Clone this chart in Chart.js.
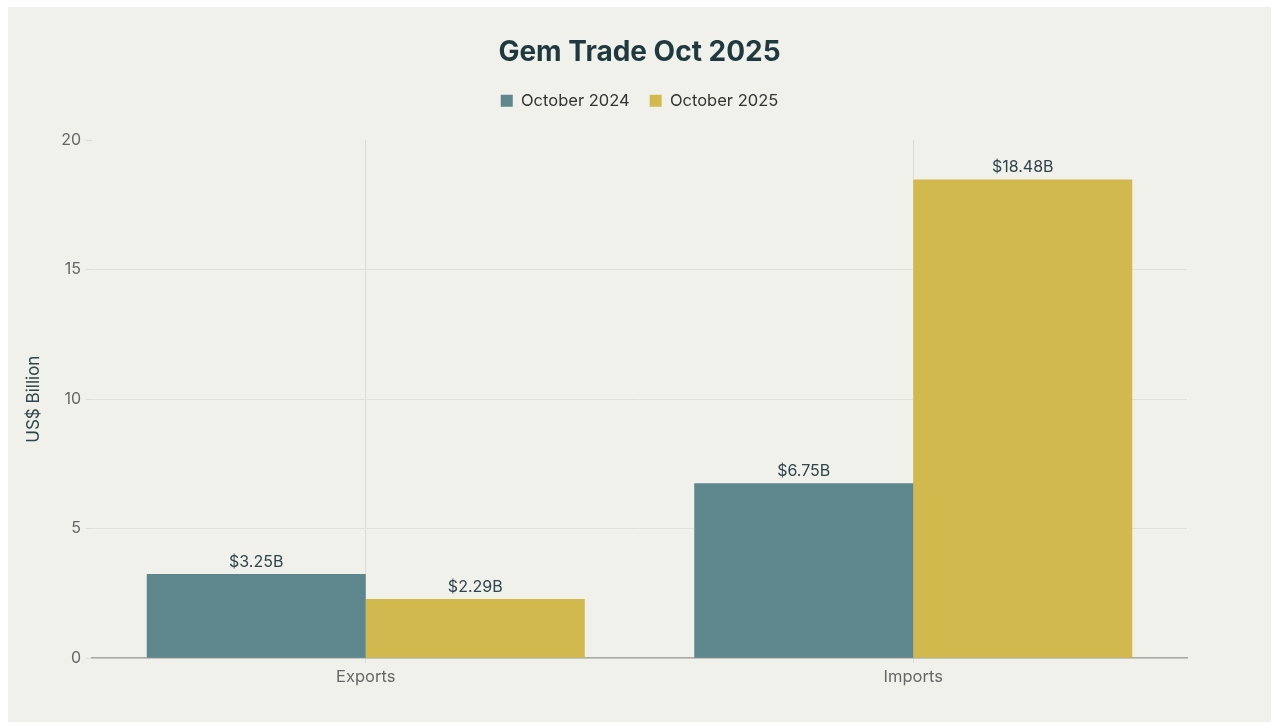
<!DOCTYPE html>
<html>
<head>
<meta charset="utf-8">
<script src="https://cdn.jsdelivr.net/npm/chart.js@4"></script>
<style>
  html, body { margin: 0; padding: 0; background: #ffffff; }
  #panel { position: absolute; left: 8px; top: 7px; width: 1263px; height: 715px; background: #f1f1ec; }
</style>
</head>
<body>
<div id="panel"><canvas id="myChart" width="1263" height="715"></canvas></div>
<script>
// chart values
const categories = ["Exports", "Imports"];
const seriesNames = ["October 2024", "October 2025"];
const oct2024 = [3.25, 6.75];
const oct2025 = [2.29, 18.48];
const yTicks = [0, 5, 10, 15, 20];

const teal = "#5e868d";
const gold = "#d2b94e";
const fontFamily = "Inter, 'Noto Sans', sans-serif";

// draws the "$x.xxB" text above each bar
const barLabels = {
  id: "barLabels",
  afterDatasetsDraw(chart) {
    const ctx = chart.ctx;
    ctx.save();
    ctx.font = "16px " + fontFamily;
    ctx.fillStyle = "#2f454a";
    ctx.textAlign = "center";
    ctx.textBaseline = "bottom";
    chart.data.datasets.forEach(function(ds, i) {
      chart.getDatasetMeta(i).data.forEach(function(bar, j) {
        ctx.fillText("$" + ds.data[j].toFixed(2) + "B", bar.x, bar.y - 4);
      });
    });
    ctx.restore();
  }
};

// extra room between the legend and the plot
const legendGap = {
  id: "legendGap",
  beforeInit(chart) {
    const fit = chart.legend.fit;
    chart.legend.fit = function() {
      fit.bind(chart.legend)();
      this.height += 21;
    };
  }
};

var ctx = document.getElementById("myChart");
var data = {
  labels: categories,
  datasets: [{
    label: seriesNames[0],
    data: oct2024,
    backgroundColor: teal,
    borderWidth: 0,
    categoryPercentage: 0.8,
    barPercentage: 1.0
  }, {
    label: seriesNames[1],
    data: oct2025,
    backgroundColor: gold,
    borderWidth: 0,
    categoryPercentage: 0.8,
    barPercentage: 1.0
  }]
};
var options = {
  responsive: false,
  animation: false,
  layout: { padding: { top: 11, right: 0, bottom: 31, left: 0 } },
  plugins: {
    title: {
      display: true,
      text: "Gem Trade Oct 2025",
      color: "#1f3a3f",
      font: { family: fontFamily, size: 28, weight: "bold" },
      padding: { top: 18, bottom: 3 }
    },
    legend: {
      labels: {
        color: "#333333",
        font: { family: fontFamily, size: 16.5 },
        boxWidth: 12,
        boxHeight: 12,
        padding: 20
      }
    },
    tooltip: { enabled: false }
  },
  scales: {
    x: {
      grid: { offset: false, color: "#dcdcd6", tickLength: 5, drawTicks: true },
      border: { color: "#a9a9a5", width: 1.5 },
      ticks: { color: "#666666", font: { family: fontFamily, size: 16.5 }, padding: 4 }
    },
    y: {
      min: 0,
      max: 20,
      afterBuildTicks: function(scale) {
        scale.ticks = yTicks.map(function(v) { return { value: v }; });
      },
      afterFit: function(scale) { scale.width = 84; },
      grid: {
        color: function(c) { return c.tick && c.tick.value === 20 ? "rgba(0,0,0,0)" : "#e1e1db"; },
        tickColor: "#dcdcd6",
        tickLength: 6
      },
      border: { display: false },
      ticks: { color: "#666666", font: { family: fontFamily, size: 16 }, padding: 5 },
      title: {
        display: true,
        text: "US$ Billion",
        color: "#2f454a",
        font: { family: fontFamily, size: 17 },
        padding: { top: 16, bottom: 0 }
      }
    },
    // empty right axis, only keeps the plot clear of the right edge
    yRight: {
      position: "right",
      display: true,
      afterFit: function(scale) { scale.width = 84; },
      grid: { display: false },
      border: { display: false },
      ticks: { display: false }
    }
  }
};
var myChart = new Chart(ctx, {
  type: "bar",
  data: data,
  options: options,
  plugins: [barLabels, legendGap]
});
</script>
</body>
</html>
